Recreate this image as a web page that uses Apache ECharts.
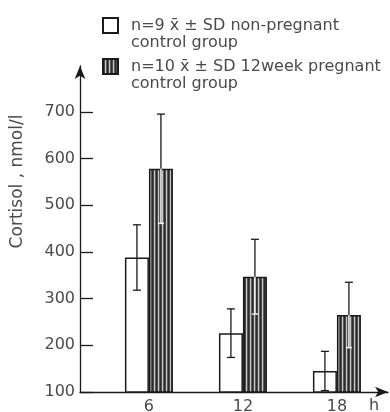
<!DOCTYPE html>
<html>
<head>
<meta charset="utf-8">
<script src="https://cdn.jsdelivr.net/npm/echarts@6/dist/echarts.min.js"></script>
<style>
  html, body { margin: 0; padding: 0; background: #fff; }
  #chart { width: 390px; height: 412px; }
</style>
</head>
<body>
<div id="chart"></div>
<script>
// Sampling times after the start of the test (hours)
const hours = [6, 12, 18];
// Cortisol, nmol/l: mean and SD per group
const nonPregMean = [388, 226, 145];
const nonPregSD = [70, 52, 42];
const pregMean = [578, 347, 265];
const pregSD = [117, 80, 70];
// Tick labels
const yTicks = [100, 200, 300, 400, 500, 600, 700];
const xTicks = [6, 12, 18];

const seriesNames = [
  'n=9 x\u0304 \u00b1 SD non-pregnant\ncontrol group',
  'n=10 x\u0304 \u00b1 SD 12week pregnant\ncontrol group'
];

// Vertical stripe fill for the pregnant group bars
function stripePattern() {
  const c = document.createElement('canvas');
  c.width = 4; c.height = 8;
  const ctx = c.getContext('2d');
  const cols = ['#2b2b2b', '#4a4a4a', '#c8c8c8', '#5a5a5a'];
  cols.forEach((col, i) => { ctx.fillStyle = col; ctx.fillRect(i, 0, 1, 8); });
  return c;
}
const stripes = { image: stripePattern(), repeat: 'repeat' };

const INK = '#1a1a1a';
const TEXT = '#4a4a4a';
const FONT = 'DejaVu Sans';
const BAR_W = 24;

function pairs(xs, ys, sds) {
  return xs.map((x, i) => sds ? [x, ys[i], sds[i]] : [x, ys[i]]);
}

// Error bar: offset in px from the category position, style per group
function errorBar(offset, inner) {
  return function (params, api) {
    const x = api.value(0), m = api.value(1), s = api.value(2);
    const top = api.coord([x, m + s]);
    const mid = api.coord([x, m]);
    const bot = api.coord([x, m - s]);
    const cx = top[0] + offset;
    const cap = 4;
    const dark = { stroke: INK, lineWidth: 1.3 };
    const light = { stroke: '#f4f4f4', lineWidth: 1.5 };
    const children = [];
    if (!inner) {
      children.push({ type: 'line', shape: { x1: cx, y1: top[1], x2: cx, y2: bot[1] }, style: dark });
      children.push({ type: 'line', shape: { x1: cx - cap, y1: top[1], x2: cx + cap, y2: top[1] }, style: dark });
      children.push({ type: 'line', shape: { x1: cx - cap, y1: bot[1], x2: cx + cap, y2: bot[1] }, style: dark });
    } else {
      children.push({ type: 'line', shape: { x1: cx, y1: top[1], x2: cx, y2: mid[1] }, style: dark });
      children.push({ type: 'line', shape: { x1: cx - cap, y1: top[1], x2: cx + cap, y2: top[1] }, style: dark });
      children.push({ type: 'line', shape: { x1: cx, y1: mid[1], x2: cx, y2: bot[1] }, style: light });
      children.push({ type: 'line', shape: { x1: cx - cap + 1, y1: bot[1], x2: cx + cap - 1, y2: bot[1] }, style: light });
    }
    return { type: 'group', children };
  };
}

// Each legend line is a rich token so it can sit a little right of the swatch
function legendText(name) {
  return ' \n' + name.split('\n').map(l => '{t|' + l + '}').join('\n');
}

const chart = echarts.init(document.getElementById('chart'), null, { renderer: 'canvas' });
chart.setOption({
  animation: false,
  backgroundColor: '#fff',
  grid: { left: 80, right: 2, top: 66, bottom: 20, containLabel: false, outerBoundsMode: 'none' },
  legend: {
    left: 102, top: 0, padding: 0,
    orient: 'vertical',
    itemWidth: 15, itemHeight: 15, itemGap: -10,
    icon: 'rect',
    formatter: legendText,
    textStyle: {
      fontFamily: FONT, fontSize: 16, color: TEXT, lineHeight: 17,
      rich: { t: { fontFamily: FONT, fontSize: 16, color: TEXT, lineHeight: 17, padding: [0, 0, 0, 8] } }
    },
    data: seriesNames
  },
  xAxis: {
    type: 'value',
    min: 1.6, max: 21.26,
    name: 'h', nameLocation: 'end', nameGap: -19,
    nameTextStyle: { fontFamily: FONT, fontSize: 16, color: TEXT, verticalAlign: 'top', padding: [6, 0, 0, 0] },
    axisLine: { onZero: false, lineStyle: { color: INK, width: 1.3 }, symbol: ['none', 'arrow'], symbolSize: [8, 13] },
    axisTick: { show: false },
    splitLine: { show: false },
    axisLabel: { customValues: xTicks, fontFamily: FONT, fontSize: 16, color: TEXT, margin: 7 }
  },
  yAxis: {
    type: 'value',
    min: 100, max: 798,
    name: 'Cortisol , nmol/l', nameLocation: 'middle', nameGap: 54,
    nameTextStyle: { fontFamily: FONT, fontSize: 17, color: TEXT, padding: [0, 0, 0, 95] },
    axisLine: { show: true, lineStyle: { color: INK, width: 1.3 }, symbol: ['none', 'arrow'], symbolSize: [8, 13] },
    axisTick: { show: true, inside: true, length: 13, customValues: yTicks, lineStyle: { color: INK, width: 1.3 } },
    splitLine: { show: false },
    axisLabel: { customValues: yTicks, fontFamily: FONT, fontSize: 16, color: TEXT, margin: 5 }
  },
  series: [
    {
      name: seriesNames[0], type: 'bar', barWidth: BAR_W, barGap: '0%',
      itemStyle: { color: '#ffffff', borderColor: INK, borderWidth: 1.5 },
      data: pairs(hours, nonPregMean)
    },
    {
      name: seriesNames[1], type: 'bar', barWidth: BAR_W, barGap: '0%',
      itemStyle: { color: stripes, borderColor: INK, borderWidth: 1.5 },
      data: pairs(hours, pregMean)
    },
    {
      type: 'custom', renderItem: errorBar(-BAR_W / 2, false),
      data: pairs(hours, nonPregMean, nonPregSD), z: 5
    },
    {
      type: 'custom', renderItem: errorBar(BAR_W / 2, true),
      data: pairs(hours, pregMean, pregSD), z: 5
    }
  ]
});
</script>
</body>
</html>
